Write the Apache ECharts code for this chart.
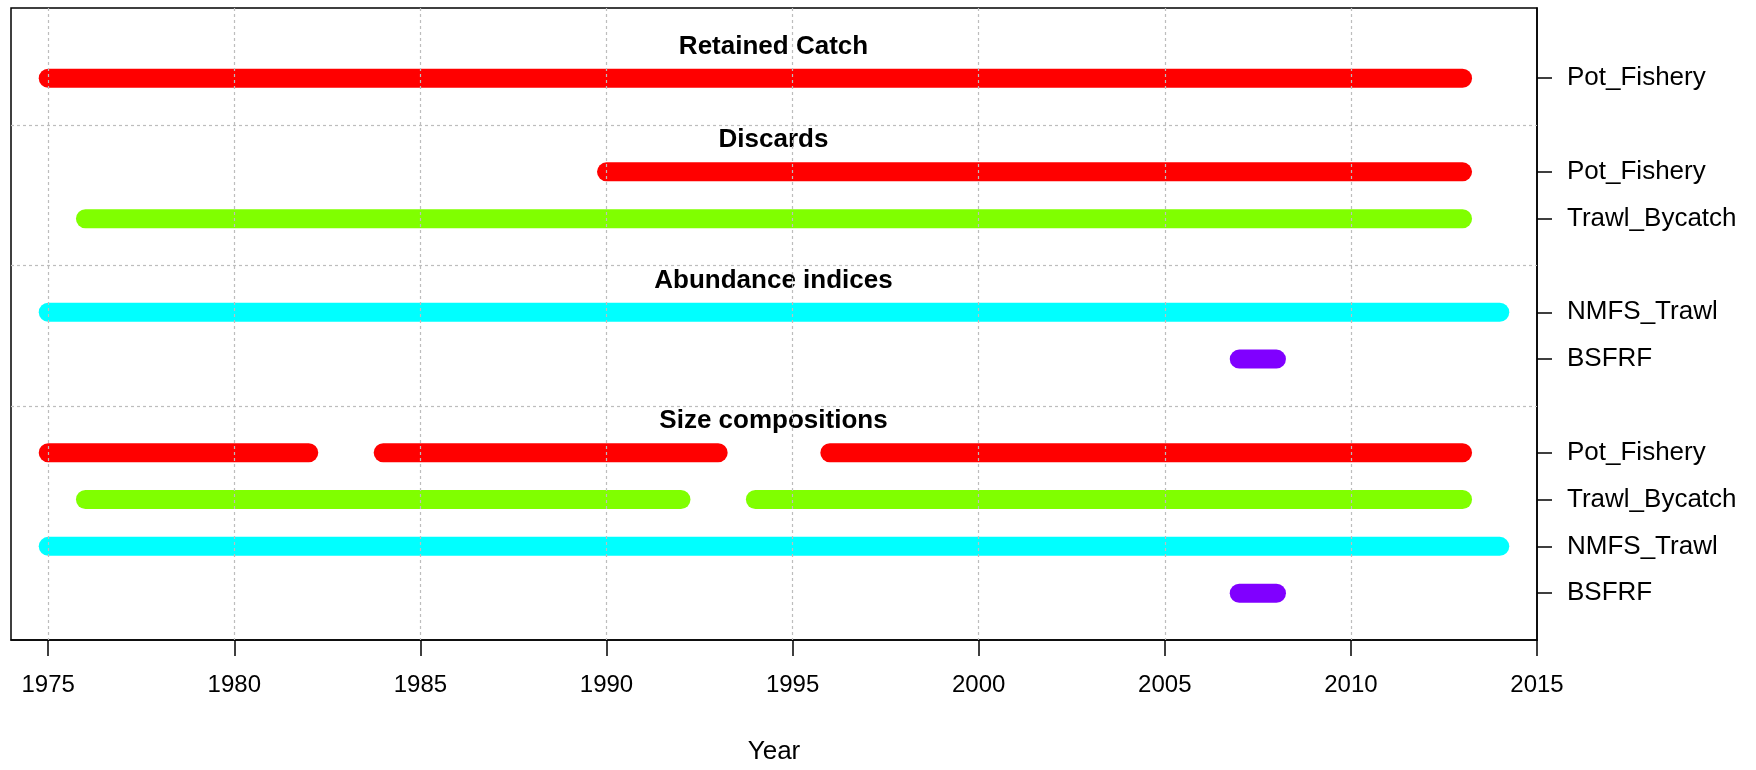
<!DOCTYPE html>
<html>
<head>
<meta charset="utf-8">
<script src="https://cdn.jsdelivr.net/npm/echarts@6/dist/echarts.min.js"></script>
<style>html,body{margin:0;padding:0;background:#fff}#c{width:1756px;height:770px}</style>
</head>
<body>
<div id="c"></div>
<script>
// ---- data ----
const xTicks = [1975, 1980, 1985, 1990, 1995, 2000, 2005, 2010, 2015];
const groupTitles = ['Retained Catch', 'Discards', 'Abundance indices', 'Size compositions'];
const groupRows = [
  ['Pot_Fishery'],
  ['Pot_Fishery', 'Trawl_Bycatch'],
  ['NMFS_Trawl', 'BSFRF'],
  ['Pot_Fishery', 'Trawl_Bycatch', 'NMFS_Trawl', 'BSFRF']
];
const retainedPot = [[1975, 2013]];
const discardPot = [[1990, 2013]];
const discardTrawl = [[1976, 2013]];
const indexNMFS = [[1975, 2014]];
const indexBSFRF = [[2007, 2008]];
const sizePot = [[1975, 1982], [1984, 1993], [1996, 2013]];
const sizeTrawl = [[1976, 1992], [1994, 2013]];
const sizeNMFS = [[1975, 2014]];
const sizeBSFRF = [[2007, 2008]];
const groupSegments = [
  [retainedPot],
  [discardPot, discardTrawl],
  [indexNMFS, indexBSFRF],
  [sizePot, sizeTrawl, sizeNMFS, sizeBSFRF]
];
const fleetColors = { Pot_Fishery: '#FF0000', Trawl_Bycatch: '#80FF00', NMFS_Trawl: '#00FFFF', BSFRF: '#8000FF' };

// ---- layout of rows (one unit per row, one blank unit between groups) ----
const rowPos = [], rowLab = [], sepPos = [], titlePos = [];
let y = 0;
groupRows.forEach((rows, g) => {
  if (g > 0) { sepPos.push(y); y += 1; }
  titlePos.push(y - 0.67);
  rows.forEach(r => { rowPos.push(y); rowLab.push(r); y += 1; });
});
const labelOf = {};
rowPos.forEach((p, i) => labelOf[p] = rowLab[i]);

const FONT = 'Liberation Sans, Arial, sans-serif';
const series = [];
// grid lines (behind)
series.push({
  type: 'line', data: [], z: 1, silent: true,
  markLine: {
    silent: true, symbol: ['none', 'none'], animation: false,
    label: { show: false },
    lineStyle: { color: '#bdbdbd', type: [3, 3], width: 1.2 },
    data: xTicks.slice(0, -1).map(v => ({ xAxis: v })).concat(sepPos.map(v => ({ yAxis: v })))
  }
});
let ri = 0;
groupRows.forEach((rows, g) => {
  rows.forEach((r, k) => {
    const yy = rowPos[ri];
    groupSegments[g][k].forEach(seg => {
      series.push({
        type: 'line', z: 3, symbol: 'none', silent: true, animation: false,
        data: [[seg[0], yy], [seg[1], yy]],
        lineStyle: { color: fleetColors[r], width: 19, cap: 'round' }
      });
    });
    ri++;
  });
});
series.push({
  type: 'scatter', symbolSize: 1, z: 4, silent: true,
  itemStyle: { opacity: 0 },
  data: groupTitles.map((t, i) => [1994.5, titlePos[i], t]),
  label: {
    show: true, position: [0, 0], align: 'center', verticalAlign: 'middle',
    formatter: p => p.value[2],
    fontFamily: FONT, fontWeight: 'bold', fontSize: 26, color: '#000', opacity: 1
  },
  emphasis: { disabled: true }
});

const chart = echarts.init(document.getElementById('c'));
chart.setOption({
  animation: false,
  backgroundColor: '#fff',
  grid: { left: 11, right: 219, top: 8, bottom: 123, show: true, borderColor: '#000', borderWidth: 1.5, backgroundColor: 'transparent' },
  xAxis: {
    type: 'value', min: 1974, max: 2015,
    name: 'Year', nameLocation: 'middle', nameGap: 99,
    nameTextStyle: { fontFamily: FONT, fontSize: 26, color: '#000' },
    axisLine: { show: true, onZero: false, lineStyle: { color: '#000', width: 1.5 } },
    axisTick: { show: true, inside: false, length: 16, customValues: xTicks, lineStyle: { color: '#000', width: 1.5 } },
    axisLabel: { customValues: xTicks, margin: 33, formatter: v => String(v), fontFamily: FONT, fontSize: 24, color: '#000' },
    splitLine: { show: false }
  },
  yAxis: {
    type: 'value', min: -1.5, max: 12, inverse: true, position: 'right',
    axisLine: { show: true, onZero: false, lineStyle: { color: '#000', width: 1.5 } },
    axisTick: { show: true, inside: false, length: 15, customValues: rowPos, lineStyle: { color: '#000', width: 1.5 } },
    axisLabel: {
      customValues: rowPos, margin: 30, formatter: v => labelOf[v] || '',
      fontFamily: FONT, fontSize: 26, color: '#000'
    },
    splitLine: { show: false }
  },
  series: series
});
</script>
</body>
</html>
